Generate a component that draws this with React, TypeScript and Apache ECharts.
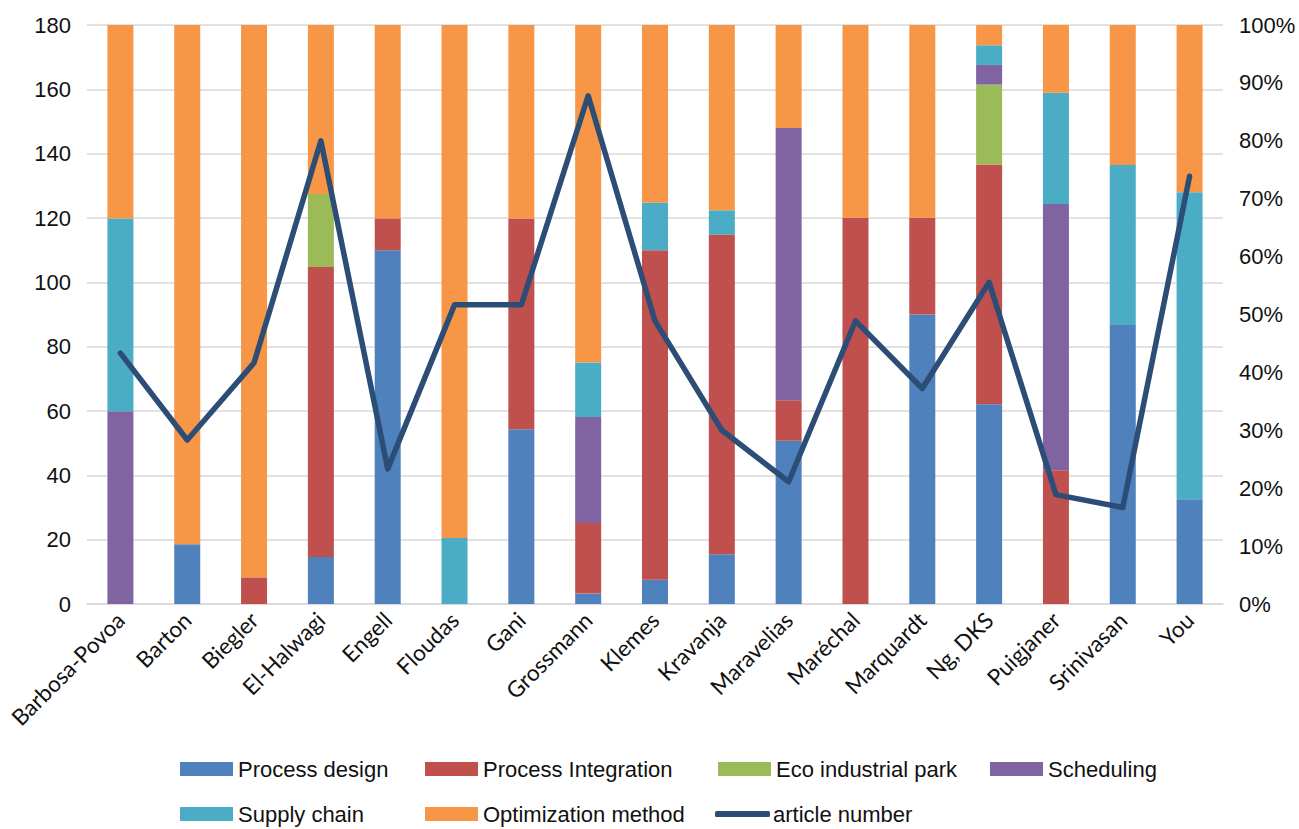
import React, { useEffect, useRef } from "react";
import * as echarts from "echarts";

const categories = ["Barbosa-Povoa", "Barton", "Biegler", "El-Halwagi", "Engell", "Floudas", "Gani", "Grossmann", "Klemes", "Kravanja", "Maravelias", "Maréchal", "Marquardt", "Ng, DKS", "Puigjaner", "Srinivasan", "You"];

const processDesign = [0, 10.3, 0, 8.1, 61.1, 0, 30.2, 1.8, 4.2, 8.6, 28.2, 0, 50.0, 34.5, 0, 48.2, 18.1];
const processIntegration = [0, 0, 4.6, 50.1, 5.5, 0, 36.4, 12.2, 56.9, 55.2, 7.0, 66.7, 16.7, 41.4, 23.1, 0, 0];
const ecoIndustrialPark = [0, 0, 0, 12.6, 0, 0, 0, 0, 0, 0, 0, 0, 0, 13.8, 0, 0, 0];
const scheduling = [33.3, 0, 0, 0, 0, 0, 0, 18.3, 0, 0, 47.0, 0, 0, 3.4, 46.0, 0, 0];
const supplyChain = [33.3, 0, 0, 0, 0, 11.4, 0, 9.4, 8.2, 4.2, 0, 0, 0, 3.4, 19.2, 27.6, 53.0];
const optimizationMethod = [33.4, 89.7, 95.4, 29.2, 33.4, 88.6, 33.4, 58.3, 30.7, 32.0, 17.8, 33.3, 33.3, 3.5, 11.7, 24.2, 28.9];
const articleNumber = [78, 51, 75, 144, 42, 93, 93, 158, 88, 54, 38, 88, 67, 100, 34, 30, 133];

const leftTicks = { min: 0, max: 180, interval: 20 };
const rightTicks = { min: 0, max: 100, interval: 10 };

const barSeries = [
  { name: "Process design", data: processDesign, color: "#4F81BD" },
  { name: "Process Integration", data: processIntegration, color: "#C0504D" },
  { name: "Eco industrial park", data: ecoIndustrialPark, color: "#9BBB59" },
  { name: "Scheduling", data: scheduling, color: "#8064A2" },
  { name: "Supply chain", data: supplyChain, color: "#4BACC6" },
  { name: "Optimization method", data: optimizationMethod, color: "#F79646" },
];

const FONT = "'Liberation Sans', Arial, sans-serif";
const TEXT = "#111111";

export default function App() {
  const ref = useRef<HTMLDivElement>(null);
  useEffect(() => {
    if (!ref.current) return;
    document.body.style.margin = "0";
    document.body.style.overflow = "hidden";
    const chart = echarts.init(ref.current, undefined, { renderer: "svg" });
    const legendPos: Array<[string, number, number, boolean]> = [
      ["Process design", 180, 758, false],
      ["Process Integration", 425, 758, false],
      ["Eco industrial park", 718, 758, false],
      ["Scheduling", 990, 758, false],
      ["Supply chain", 180, 803, false],
      ["Optimization method", 425, 803, false],
      ["article number", 715, 803, true],
    ];
    const legends = legendPos.map(([name, left, top, isLine]) => ({
      show: true,
      left,
      top,
      orient: "horizontal",
      itemWidth: isLine ? 55 : 53,
      itemHeight: isLine ? 6 : 14,
      itemGap: 0,
      padding: 0,
      data: [isLine ? { name, icon: "roundRect" } : { name, icon: "rect" }],
      textStyle: { fontFamily: FONT, fontSize: 22, color: TEXT, padding: [0, 0, 0, isLine ? -2 : 0] },
    }));
    chart.setOption({
      animation: false,
      backgroundColor: "#ffffff",
      grid: { left: 87, right: 76, top: 25, bottom: 225, containLabel: false },
      legend: legends,
      xAxis: {
        type: "category",
        data: categories,
        axisLine: { show: true, lineStyle: { color: "#D9D9D9", width: 1.5 } },
        axisTick: { show: false },
        axisLabel: {
          rotate: 45,
          interval: 0,
          margin: 12,
          fontFamily: "Lato, 'Open Sans', sans-serif",
          fontSize: 22.5,
          color: TEXT,
        },
      },
      yAxis: [
        {
          type: "value",
          min: leftTicks.min,
          max: leftTicks.max,
          interval: leftTicks.interval,
          axisLine: { show: false },
          axisTick: { show: false },
          splitLine: { show: true, lineStyle: { color: "#D9D9D9", width: 1.5 } },
          axisLabel: { fontFamily: FONT, fontSize: 22, color: TEXT, margin: 16 },
        },
        {
          type: "value",
          min: rightTicks.min,
          max: rightTicks.max,
          interval: rightTicks.interval,
          position: "right",
          axisLine: { show: false },
          axisTick: { show: false },
          splitLine: { show: false },
          axisLabel: { fontFamily: FONT, fontSize: 22, color: TEXT, margin: 16, formatter: "{value}%" },
        },
      ],
      series: [
        ...barSeries.map((s) => ({
          name: s.name,
          type: "bar",
          stack: "total",
          yAxisIndex: 1,
          barWidth: 26,
          data: s.data,
          itemStyle: { color: s.color },
          emphasis: { disabled: true },
        })),
        {
          name: "article number",
          type: "line",
          yAxisIndex: 0,
          data: articleNumber,
          symbol: "none",
          showSymbol: false,
          itemStyle: { color: "#2C4D75" },
          lineStyle: { color: "#2C4D75", width: 5.5, cap: "round", join: "round" },
          z: 10,
        },
      ],
    });
    return () => chart.dispose();
  }, []);
  return <div ref={ref} style={{ width: 1299, height: 829 }} />;
}
